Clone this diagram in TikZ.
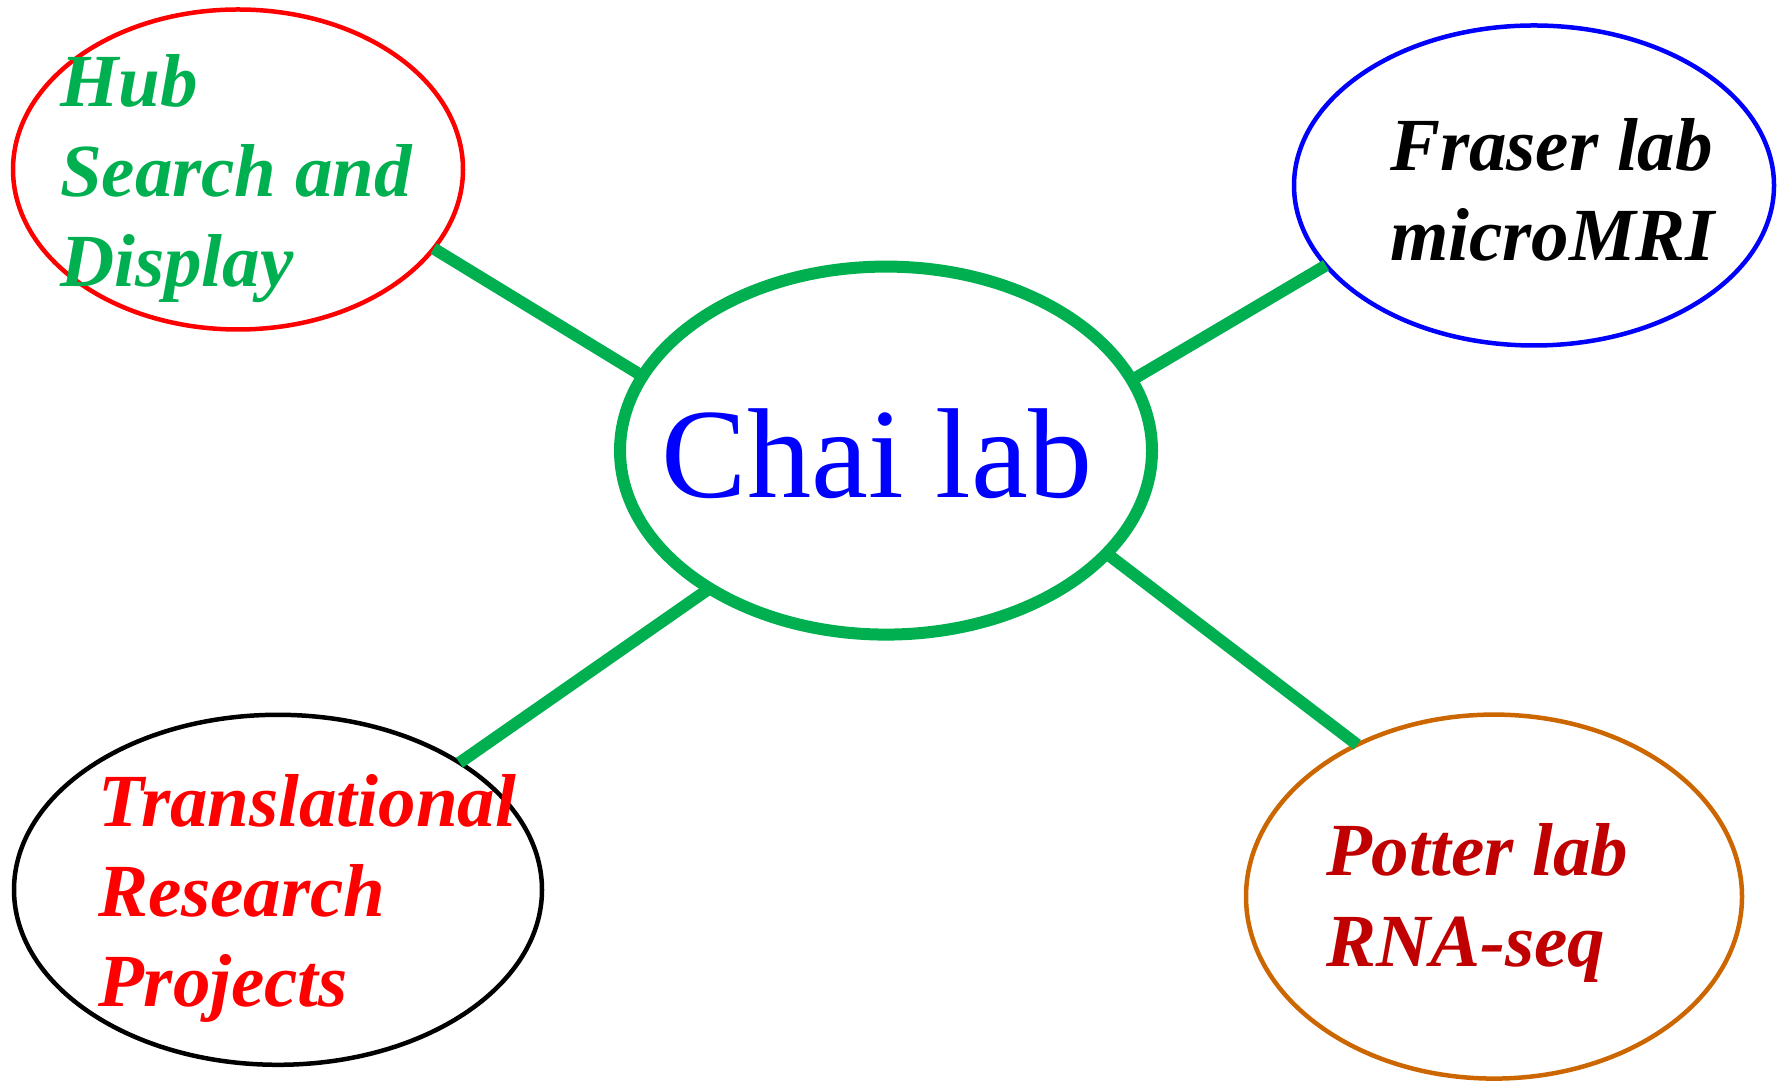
\documentclass[tikz,border=0pt]{standalone}
\usepackage{fontspec}
\setmainfont{Liberation Serif}
\usetikzlibrary{shapes.geometric}
\definecolor{cgreen}{RGB}{0,176,80}
\definecolor{cblue}{RGB}{0,0,255}
\definecolor{cred}{RGB}{255,0,0}
\definecolor{cdred}{RGB}{192,0,0}
\definecolor{corange}{RGB}{204,102,0}
\tikzset{
  oval/.style={ellipse, draw, line width=4.5pt, inner sep=0pt, outer sep=0pt},
  link/.style={draw=cgreen, line width=12pt},
  lbl/.style={inner sep=0pt, outer sep=0pt, align=left, anchor=base west,
              font=\fontsize{75}{90}\selectfont\bfseries\itshape},
}
\begin{document}
\begin{tikzpicture}[x=1pt,y=1pt]
\useasboundingbox (0,0) rectangle (1784,1083);
\node[oval, draw=cred, minimum width=450pt, minimum height=320pt] (hub) at (238,913.5) {};
\node[oval, draw=cblue, minimum width=480pt, minimum height=320pt] (fraser) at (1534,897.5) {};
\node[oval, draw=cgreen, line width=12pt, minimum width=532pt, minimum height=368pt] (chai) at (886,632.4) {};
\node[oval, draw=black, minimum width=528pt, minimum height=350pt] (trans) at (278,193.2) {};
\node[oval, draw=corange, minimum width=496pt, minimum height=364pt] (potter) at (1494,186.4) {};
\draw[link] (hub.-22.6) -- (chai.163.5);
\draw[link] (chai.16.7) -- (fraser.201.1);
\draw[link] (chai.218.2) -- (trans.35.2);
\draw[link] (chai.-25.7) -- (potter.132);
\node[lbl, text=cgreen] (hubtxt) at (60,796) {Hub\\Search and\\Display};
\node[lbl, text=black] (frasertxt) at (1390,822) {Fraser lab\\microMRI};
\node[inner sep=0pt, anchor=base, text=cblue, font=\fontsize{128}{150}\selectfont] (chaitxt) at (877,585) {Chai lab};
\node[lbl, text=cred, font=\fontsize{75}{90}\selectfont\bfseries\itshape] (transtxt) at (98,76) {Translational\\Research\\Projects};
\node[lbl, text=cdred, font=\fontsize{75}{91}\selectfont\bfseries\itshape] (pottertxt) at (1326,116) {Potter lab\\RNA-seq};
\end{tikzpicture}
\end{document}
